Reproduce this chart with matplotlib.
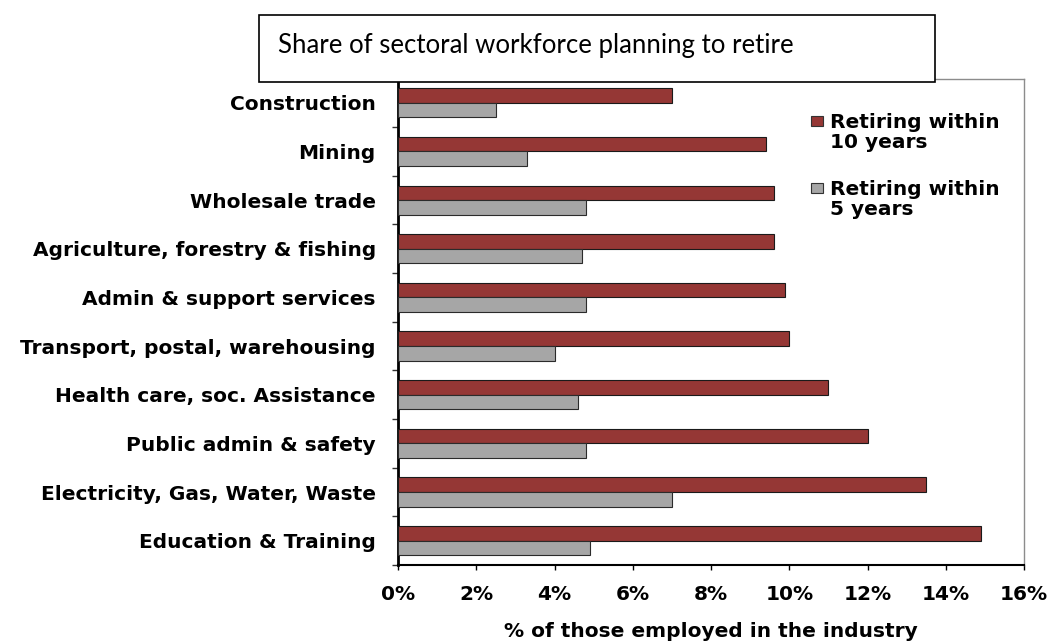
import numpy as np
import matplotlib.pyplot as plt
from matplotlib.patches import Rectangle

# sectors, top to bottom
sectors = ['Construction', 'Mining', 'Wholesale trade',
           'Agriculture, forestry & fishing', 'Admin & support services',
           'Transport, postal, warehousing', 'Health care, soc. Assistance',
           'Public admin & safety', 'Electricity, Gas, Water, Waste',
           'Education & Training']
within_10 = [7.0, 9.4, 9.6, 9.6, 9.9, 10.0, 11.0, 12.0, 13.5, 14.9]
within_5 = [2.5, 3.3, 4.8, 4.7, 4.8, 4.0, 4.6, 4.8, 7.0, 4.9]
series_labels = ['Retiring within\n10 years', 'Retiring within\n5 years']
x_ticks = [0, 2, 4, 6, 8, 10, 12, 14, 16]
title = 'Share of sectoral workforce planning to retire'
x_label = '% of those employed in the industry'

red = '#953735'
grey = '#a6a6a6'
W, H = 1052, 641

fig = plt.figure(figsize=(W / 100, H / 100), dpi=100)
fig.patch.set_facecolor('white')

# axes box in pixels: left 398, right 1024, top 78.5, bottom 565
ax = fig.add_axes([398 / W, (H - 565) / H, 626 / W, 486.5 / H])

y = np.arange(len(sectors))
h = 0.3
ax.barh(y - h / 2, within_10, height=h, color=red, edgecolor='#1a1a1a', linewidth=0.8, zorder=3)
ax.barh(y + h / 2, within_5, height=h, color=grey, edgecolor='#2b2b2b', linewidth=0.8, zorder=3)

ax.set_ylim(len(sectors) - 0.5, -0.5)
ax.set_xlim(0, 16)

font = {'family': 'DejaVu Sans', 'weight': 'bold', 'size': 14.5}

# labels at category centres, tick marks between categories
ax.set_yticks(y)
ax.set_yticklabels(sectors, **font)
ax.set_yticks(np.arange(len(sectors) + 1) - 0.5, minor=True)
ax.tick_params(axis='y', which='major', length=0, pad=16)
ax.tick_params(axis='y', which='minor', length=4.3, width=1, direction='out', color='#333333')

ax.set_xticks(x_ticks)
ax.set_xticklabels([f'{v}%' for v in x_ticks], **font)
ax.tick_params(axis='x', which='major', length=3.6, width=1, direction='out', pad=11)
ax.set_xlabel(x_label, labelpad=12.5, **font)

for side in ['top', 'right']:
    ax.spines[side].set_color('#8c8c8c')
    ax.spines[side].set_linewidth(1)
ax.spines['left'].set_linewidth(2)
ax.spines['bottom'].set_linewidth(1.5)

# legend drawn by hand so the marker sits on the first line
leg_colors = [red, grey]
leg_y = [121, 188]  # pixel centre of first text line
for lab, col, yy in zip(series_labels, leg_colors, leg_y):
    fig.patches.append(Rectangle((811 / W, (H - yy - 5) / H), 12 / W, 10 / H,
                                 transform=fig.transFigure, facecolor=col,
                                 edgecolor='#333333', linewidth=0.8))
    fig.text(830 / W, (H - yy + 8) / H, lab, ha='left', va='top', linespacing=1.05,
             **font)

# title box
fig.patches.append(Rectangle((259 / W, (H - 81.7) / H), 676 / W, 66.7 / H,
                             transform=fig.transFigure, facecolor='white',
                             edgecolor='black', linewidth=1.2, zorder=5))
fig.text(278 / W, (H - 52.5) / H, title, ha='left', va='baseline',
         fontsize=18.5, family='Lato', zorder=6)

fig.savefig('out.png', dpi=100)
